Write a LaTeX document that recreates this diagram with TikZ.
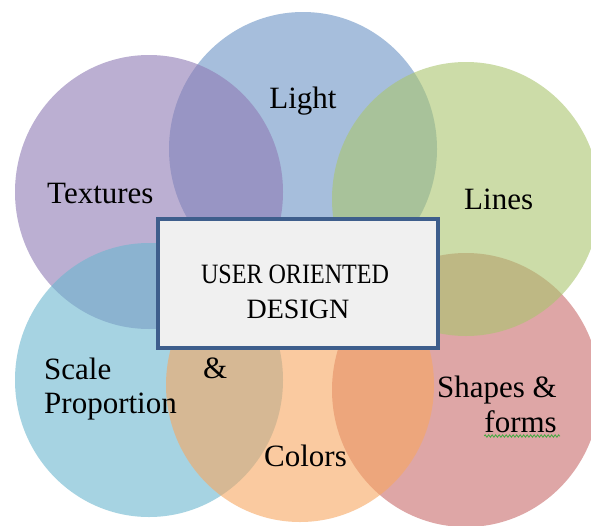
\documentclass[tikz,border=0pt]{standalone}
\usepackage{fontspec}
\usepackage{graphicx}
\setmainfont{Liberation Serif}
\usetikzlibrary{decorations.pathmorphing}
\definecolor{cblue}{RGB}{107,147,197}
\definecolor{cpurple}{RGB}{143,123,180}
\definecolor{cteal}{RGB}{107,183,207}
\definecolor{cpink}{RGB}{200,107,107}
\definecolor{corange}{RGB}{247,167,97}
\definecolor{cgreen}{RGB}{170,197,110}
\definecolor{boxblue}{RGB}{62,94,140}
\definecolor{boxfill}{RGB}{240,240,240}
\definecolor{squig}{RGB}{60,170,60}
\tikzset{
  petal/.style={fill=#1, fill opacity=0.6},
  lbl/.style={inner sep=0pt, font=\fontsize{31}{36}\selectfont, text=black},
  ctext/.style={inner sep=0pt, font=\fontsize{28}{32}\selectfont, text=black},
  centerbox/.style={draw=boxblue, line width=4pt, fill=boxfill, minimum width=280pt, minimum height=129pt, inner sep=0pt}
}
\begin{document}
\begin{tikzpicture}[x=1pt,y=-1pt]
\useasboundingbox (0,0) rectangle (591,525);
\fill[white] (0,0) rectangle (591,525);
% petals (drawing order matters for overlaps)
\fill[petal=cblue]   (303,149) ellipse [x radius=134pt, y radius=137pt];
\fill[petal=cpurple] (149,192) ellipse [x radius=134pt, y radius=137pt];
\fill[petal=cteal]   (149,380) ellipse [x radius=134pt, y radius=137pt];
\fill[petal=cpink]   (466,390) ellipse [x radius=134pt, y radius=137pt];
\fill[petal=corange] (300,385) ellipse [x radius=134pt, y radius=137pt];
\fill[petal=cgreen]  (466,199) ellipse [x radius=134pt, y radius=137pt];
% centre box
\node[centerbox] (box) at (298,283.5) {};
\node[ctext, anchor=base] (t1) at (295,283) {\scalebox{0.86}[1]{USER ORIENTED}};
\node[ctext, anchor=base] (t2) at (298,318) {DESIGN};
% labels
\node[lbl, anchor=base] (light) at (303,108) {Light};
\node[lbl, anchor=base west] (textures) at (47,203) {Textures};
\node[lbl, anchor=base west] (lines) at (464,209) {Lines};
\node[lbl, anchor=base west] (scale) at (44,379) {Scale};
\node[lbl, anchor=base west] (amp) at (203,378) {\&};
\node[lbl, anchor=base west] (prop) at (44,413) {Proportion};
\node[lbl, anchor=base east] (shapes) at (557,397) {Shapes \&};
\node[lbl, anchor=base east] (forms) at (557,432) {forms};
\node[lbl, anchor=base west] (colors) at (264,466) {Colors};
% spell-check squiggle under "forms"
\draw[squig, line width=0.8pt, decorate, decoration={zigzag, segment length=3.5pt, amplitude=1.2pt}]
  ([yshift=-4pt]forms.base west) -- ([yshift=-4pt,xshift=3pt]forms.base east);
\end{tikzpicture}
\end{document}
